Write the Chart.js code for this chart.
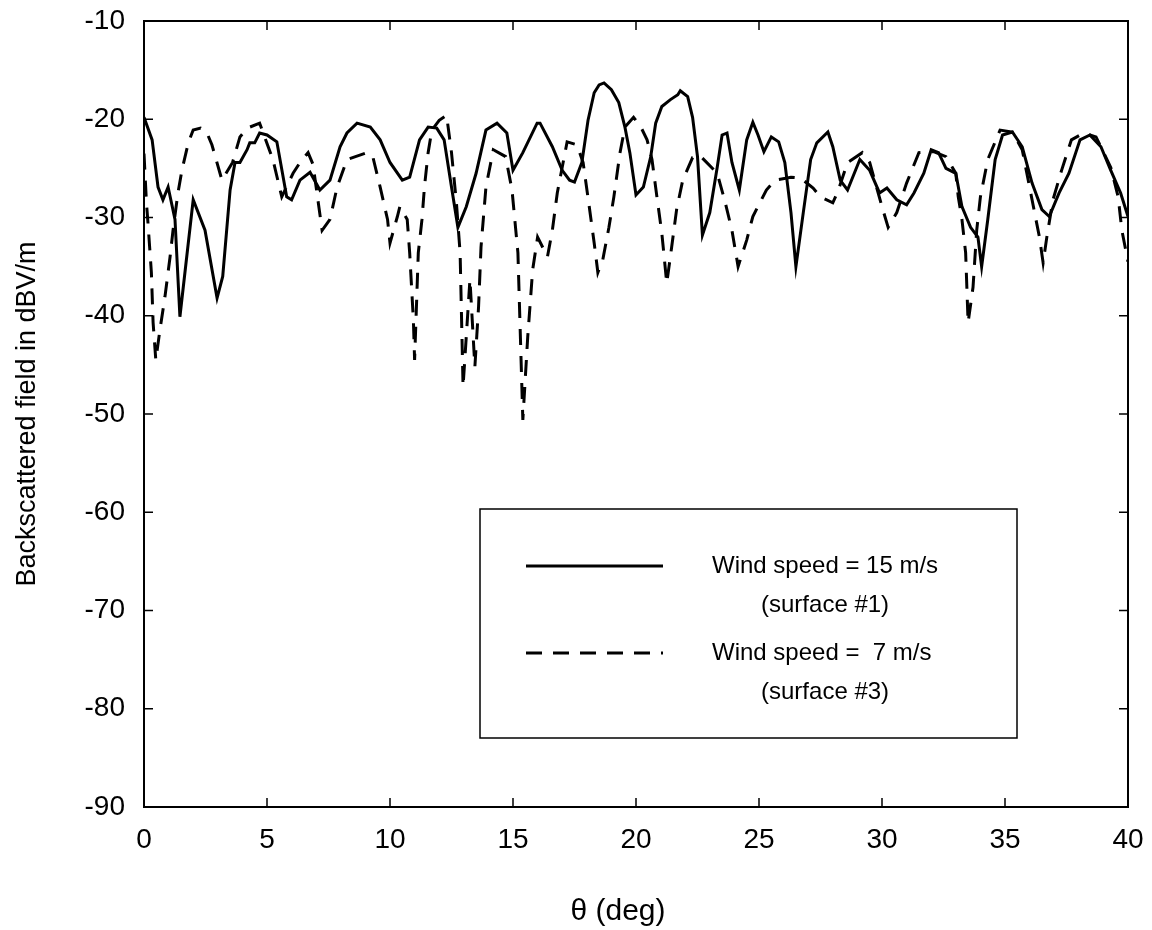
<!DOCTYPE html>
<html><head><meta charset="utf-8">
<script src="https://cdn.jsdelivr.net/npm/chart.js@4.4.0/dist/chart.umd.min.js"></script>
<style>html,body{margin:0;padding:0;background:#fff}canvas{display:block}</style>
</head><body>
<canvas id="c" width="1152" height="930"></canvas>
<script>
// ---- data ----
const solidTheta = [0,0.33,0.57,0.77,0.98,1.26,1.46,2.0,2.48,2.97,3.2,3.5,3.7,3.9,4.19,4.3,4.5,4.7,5.0,5.4,5.8,6.0,6.34,6.75,7.15,7.56,7.97,8.25,8.66,9.2,9.6,10.0,10.5,10.8,11.2,11.55,11.9,12.2,12.5,12.76,13.1,13.5,13.9,14.35,14.75,15.0,15.4,15.98,16.1,16.6,17.0,17.3,17.5,17.8,18.05,18.3,18.5,18.7,19.0,19.3,19.55,19.75,20.0,20.3,20.6,20.8,21.05,21.4,21.7,21.8,22.1,22.3,22.5,22.7,23.0,23.3,23.5,23.7,23.9,24.2,24.5,24.75,24.96,25.2,25.5,25.8,26.05,26.3,26.5,26.8,27.1,27.35,27.8,28.0,28.3,28.6,29.1,29.5,29.9,30.2,30.6,31.0,31.3,31.7,32.0,32.3,32.6,33.0,33.25,33.6,33.9,34.05,34.3,34.6,34.9,35.3,35.7,36.1,36.5,36.8,37.2,37.6,38.05,38.45,38.9,39.3,39.7,40.0];
const solidDb = [-19.8,-22.1,-26.9,-28.2,-26.9,-30.2,-40.1,-28.2,-31.3,-38.2,-36.0,-27.2,-24.4,-24.4,-23.1,-22.4,-22.4,-21.4,-21.6,-22.3,-27.9,-28.2,-26.2,-25.4,-27.2,-26.2,-22.8,-21.4,-20.4,-20.8,-22.1,-24.4,-26.2,-25.9,-22.1,-20.8,-20.9,-22.1,-26.9,-31.0,-28.9,-25.5,-21.1,-20.4,-21.4,-25.2,-23.4,-20.4,-20.4,-22.8,-25.2,-26.2,-26.4,-24.4,-20.1,-17.3,-16.5,-16.3,-17.0,-18.3,-20.8,-23.4,-27.7,-26.9,-23.8,-20.4,-18.7,-18.0,-17.5,-17.1,-17.7,-19.8,-23.8,-31.8,-29.5,-24.9,-21.6,-21.4,-24.4,-27.2,-22.1,-20.3,-21.6,-23.3,-21.8,-22.3,-24.4,-29.5,-35.0,-29.5,-24.1,-22.4,-21.3,-22.8,-26.2,-27.2,-24.1,-25.2,-27.5,-27.0,-28.2,-28.7,-27.5,-25.5,-23.1,-23.4,-25.0,-25.5,-28.9,-31.0,-32.0,-35.0,-30.2,-24.1,-21.6,-21.3,-22.8,-26.5,-29.2,-29.9,-27.5,-25.5,-22.1,-21.6,-22.8,-25.2,-27.5,-29.9];

const dashedTheta = [0,0.1,0.16,0.3,0.37,0.48,0.65,0.85,1.06,1.18,1.38,1.54,1.8,2.0,2.3,2.56,2.76,3.17,3.6,3.9,4.2,4.7,5.24,5.6,6.06,6.34,6.67,6.87,7.24,7.56,7.85,8.25,9.07,9.3,9.6,9.9,10.0,10.3,10.4,10.7,10.8,10.95,11.0,11.15,11.3,11.4,11.55,11.7,12.0,12.3,12.5,12.7,12.85,12.97,13.25,13.45,13.6,13.7,13.9,14.2,14.7,14.96,15.2,15.4,15.6,15.8,16.0,16.4,16.6,16.8,17.2,17.6,17.85,18.1,18.3,18.45,18.65,18.9,19.1,19.35,19.55,19.9,20.2,20.45,20.65,20.85,21.05,21.25,21.45,21.65,21.9,22.3,22.6,23.3,23.6,23.9,24.15,24.5,24.75,25.3,25.65,26.3,26.7,27.2,27.5,28.0,28.2,28.6,29.2,29.5,30.0,30.25,30.6,31.0,31.5,32.1,32.6,33.0,33.1,33.25,33.4,33.5,33.7,33.85,34.0,34.3,34.8,35.3,35.7,36.1,36.4,36.55,36.7,36.95,37.3,37.7,38.2,38.7,39.3,39.6,39.75,40.0];
const dashedDb = [-23.5,-28.5,-30.5,-35.6,-40.7,-44.5,-41.4,-38.1,-34.0,-31.3,-27.5,-25.2,-22.4,-21.1,-20.9,-21.4,-22.6,-26.2,-24.4,-21.8,-20.9,-20.4,-24.1,-27.9,-25.5,-24.4,-23.4,-24.6,-31.3,-30.2,-26.9,-24.1,-23.4,-23.8,-26.9,-30.2,-32.6,-29.9,-28.9,-30.2,-33.6,-40.4,-44.5,-33.6,-30.2,-26.9,-23.4,-21.1,-20.1,-19.6,-23.4,-28.5,-33.6,-47.2,-36.3,-45.2,-39.1,-33.0,-26.9,-23.1,-23.8,-27.2,-33.6,-50.6,-42.1,-35.3,-32.0,-34.0,-31.3,-27.5,-22.3,-22.6,-24.4,-28.9,-32.6,-35.6,-34.3,-31.0,-27.9,-23.4,-20.8,-19.8,-20.8,-22.1,-24.1,-27.9,-31.6,-36.7,-33.0,-29.2,-26.2,-23.9,-23.7,-25.5,-28.2,-31.3,-35.0,-32.3,-29.9,-27.2,-26.2,-25.9,-26.0,-27.0,-27.9,-28.5,-27.4,-24.4,-23.4,-24.4,-28.9,-31.0,-29.5,-26.5,-23.4,-23.3,-23.8,-25.5,-27.9,-30.2,-33.6,-40.7,-37.1,-31.3,-27.9,-24.1,-21.1,-21.3,-23.1,-28.2,-32.0,-34.6,-32.0,-28.2,-25.2,-22.1,-21.4,-21.8,-24.9,-27.9,-31.3,-34.5];

const xTickValues = [0,5,10,15,20,25,30,35,40];
const xTickLabels = ['0','5','10','15','20','25','30','35','40'];
const yTickValues = [-90,-80,-70,-60,-50,-40,-30,-20,-10];
const yTickLabels = ['-90','-80','-70','-60','-50','-40','-30','-20','-10'];
const seriesLabels = ['Wind speed = 15 m/s', 'Wind speed =  7 m/s'];
const seriesSubLabels = ['(surface #1)', '(surface #3)'];
const xTitle = 'θ (deg)';
const yTitle = 'Backscattered field in dBV/m';

const FONT = '"Liberation Sans", Arial, Helvetica, sans-serif';

function pairs(xs, ys){ return xs.map((x,i)=>({x:x, y:ys[i]})); }

const framePlugin = {
  id: 'frame',
  afterDatasetsDraw(chart){
    const {ctx, chartArea:a, scales} = chart;
    ctx.save();
    ctx.strokeStyle = '#000';
    ctx.lineWidth = 2;
    ctx.strokeRect(a.left, a.top, a.right - a.left, a.bottom - a.top);
    ctx.lineWidth = 1.5;
    const tl = 9;
    ctx.beginPath();
    xTickValues.forEach(v=>{
      const px = scales.x.getPixelForValue(v);
      ctx.moveTo(px, a.bottom); ctx.lineTo(px, a.bottom - tl);
      ctx.moveTo(px, a.top); ctx.lineTo(px, a.top + tl);
    });
    yTickValues.forEach(v=>{
      const py = scales.y.getPixelForValue(v);
      ctx.moveTo(a.left, py); ctx.lineTo(a.left + tl, py);
      ctx.moveTo(a.right, py); ctx.lineTo(a.right - tl, py);
    });
    ctx.stroke();
    // x-axis title (slightly left of centre in the reference)
    ctx.fillStyle = '#000';
    ctx.font = '30px ' + FONT;
    ctx.textAlign = 'center';
    ctx.textBaseline = 'middle';
    ctx.fillText(xTitle, 618, 912);
    ctx.restore();
  }
};

const boxLegendPlugin = {
  id: 'boxLegend',
  afterDraw(chart){
    const ctx = chart.ctx;
    const bx = 480, by = 509, bw = 537, bh = 229;
    ctx.save();
    ctx.fillStyle = '#fff';
    ctx.fillRect(bx, by, bw, bh);
    ctx.strokeStyle = '#000';
    ctx.lineWidth = 1.5;
    ctx.strokeRect(bx, by, bw, bh);
    const rows = [566, 653];
    chart.data.datasets.forEach((ds, i)=>{
      const y = rows[i];
      ctx.beginPath();
      ctx.setLineDash(ds.borderDash || []);
      ctx.lineWidth = ds.borderWidth;
      ctx.strokeStyle = ds.borderColor;
      ctx.moveTo(526, y); ctx.lineTo(663, y);
      ctx.stroke();
      ctx.setLineDash([]);
      ctx.fillStyle = '#000';
      ctx.font = '24px ' + FONT;
      ctx.textBaseline = 'middle';
      ctx.textAlign = 'left';
      const tx = 712;
      ctx.fillText(seriesLabels[i], tx, y);
      const w = ctx.measureText(seriesLabels[0]).width;
      ctx.textAlign = 'center';
      ctx.fillText(seriesSubLabels[i], tx + w/2, y + 39);
    });
    ctx.restore();
  }
};

function zeroPad(s){ s.paddingTop = 0; s.paddingBottom = 0; s.paddingLeft = 0; s.paddingRight = 0; }

new Chart(document.getElementById('c'), {
  type: 'line',
  data: {
    datasets: [
      { label: seriesLabels[0], data: pairs(solidTheta, solidDb), borderColor: '#000', borderWidth: 3,
        pointRadius: 0, tension: 0, fill: false },
      { label: seriesLabels[1], data: pairs(dashedTheta, dashedDb), borderColor: '#000', borderWidth: 3,
        borderDash: [16, 11], pointRadius: 0, tension: 0, fill: false }
    ]
  },
  options: {
    responsive: false,
    animation: false,
    devicePixelRatio: 1,
    layout: { padding: { top: 21, right: 24, left: 0, bottom: 0 } },
    plugins: { legend: { display: false }, tooltip: { enabled: false } },
    scales: {
      x: {
        type: 'linear', min: 0, max: 40,
        afterBuildTicks(s){ s.ticks = xTickValues.map(v=>({value:v})); },
        afterFit(s){ s.height = 123; zeroPad(s); },
        grid: { display: false, drawTicks: false },
        border: { display: false },
        ticks: { color: '#000', font: { family: FONT, size: 28 }, padding: 16, maxRotation: 0,
          callback: (v)=> xTickLabels[xTickValues.indexOf(v)] },
        title: { display: false }
      },
      y: {
        type: 'linear', min: -90, max: -10,
        afterBuildTicks(s){ s.ticks = yTickValues.map(v=>({value:v})); },
        afterFit(s){ s.width = 144; zeroPad(s); },
        grid: { display: false, drawTicks: false },
        border: { display: false },
        ticks: { color: '#000', font: { family: FONT, size: 28 }, padding: 19,
          callback: (v)=> yTickLabels[yTickValues.indexOf(v)] },
        title: { display: true, text: yTitle, color: '#000', font: { family: FONT, size: 27 },
          padding: { top: 11, bottom: 0 } }
      }
    }
  },
  plugins: [framePlugin, boxLegendPlugin]
});
</script>
</body></html>
